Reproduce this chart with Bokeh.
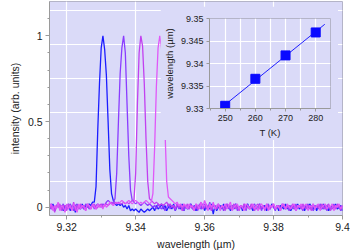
import numpy as np
from bokeh.plotting import figure
from bokeh.layouts import column
from bokeh.models import FixedTicker
from bokeh.embed import file_html
from bokeh.resources import INLINE

# ---------------- data ----------------
# common wavelength sampling (µm), 9.315 .. 9.400 step 0.0005
wavelength = np.round(9.315 + 0.0005 * np.arange(171), 4)

spec_250K = [
    .01, -.01, .02, -.02, .00, .02, -.01, .01, -.02, .01,
    -.01, .02, -.02, .00, .01, -.03, .01, .00, -.01, .02,
    -.01, .01, .00, .02, .01, .03, .03, .12, .45, .72,
    .93, 1.0, .92, .77, .5, .22, .08, .04, .02, .01,
    .02, .01, .02, .00, .01, -.01, .01, -.02, -.01, -.02,
    -.01, -.02, -.03, -.01, -.02, -.03, -.02, -.01, -.02, -.01,
    .00, -.02, .01, -.01, .00, .02, -.01, .01, -.02, .00,
    .01, -.01, .02, -.02, .01, .00, -.01, .02, -.02, .01,
    -.01, .00, .02, -.01, .01, -.02, .00, .01, -.01, .02,
    -.02, .01, .00, -.01, .02, -.04, .01, -.02, .00, .01,
    -.01, .02, -.01, .00, .01, -.02, .01, -.01, .02, .00,
    -.01, .01, -.02, .01, .00, .02, -.01, .01, -.02, .00,
    .01, -.01, .02, -.01, .00, .01, -.02, .01, -.01, .02,
    .00, -.01, .01, -.02, .01, .00, -.01, .02, -.01, .01,
    -.02, .00, .01, -.01, .02, -.01, .00, .01, -.02, .01,
    -.01, .02, .00, -.01, .01, -.02, .01, .00, -.01, .02,
    -.01, .01, -.02, .00, .01, -.01, .02, -.01, .00, .01, -.02,
]
spec_260K = [
    -.01, .02, .00, -.02, .01, .02, -.01, .00, .02, -.02,
    .01, -.01, .02, .00, -.02, .01, .02, -.01, .01, .00,
    -.01, .02, .01, -.01, .00, .02, -.01, .01, .02, .01,
    .00, .02, .01, .03, .04, .03, .02, .03, .05, .2,
    .5, .78, .93, 1.0, .9, .6, .3, .1, .04, .03,
    .02, .03, .02, .01, .02, .03, .02, .01, .02, .01,
    .00, .01, -.01, .02, .00, -.01, .01, -.02, .00, .02,
    -.01, .01, .00, -.02, .02, -.01, .01, .00, -.02, .01,
    .00, -.01, .02, -.01, .00, .01, -.02, .02, -.01, .01,
    .02, -.01, .00, .03, -.02, .01, .00, -.01, .02, -.01,
    .01, -.02, .00, .02, -.01, .01, -.01, .00, .02, -.02,
    .00, .01, -.01, .02, -.02, .01, .00, -.01, .01, .02,
    -.01, .00, .02, -.02, .01, -.01, .00, .02, -.01, .01,
    .00, -.02, .01, .01, -.01, .02, .00, -.01, .01, -.02,
    .01, .00, -.01, .02, -.01, .01, .00, -.02, .01, .00,
    .02, -.01, .01, -.02, .00, .01, -.01, .02, .00, -.01,
    .01, -.02, .01, .00, -.01, .02, -.01, .01, .00, -.02, .01,
]
spec_270K = [
    .02, -.01, .01, -.03, .01, .00, .02, -.02, .01, .01,
    -.02, .02, .00, -.01, .03, -.02, .01, -.01, .02, .00,
    .01, -.02, .02, .00, -.01, .01, .02, -.01, .00, .01,
    .02, .00, .01, .02, .01, .02, .03, .02, .03, .02,
    .03, .02, .02, .03, .02, .03, .02, .03, .04, .04,
    .2, .6, .9, 1.0, .94, .72, .4, .15, .05, .04,
    .03, .02, .03, .02, .01, .02, .01, .02, .03, .01,
    .02, .00, .01, -.01, .02, .00, .01, -.02, .01, .00,
    .02, -.01, .01, .00, -.02, .02, -.01, .01, .03, -.01,
    .00, .02, -.01, .01, -.02, .02, .00, -.01, .02, -.01,
    .01, .00, -.02, .02, .01, -.01, .00, .02, -.01, .01,
    -.02, .01, .00, .02, -.01, .01, -.01, .02, .00, -.02,
    .01, .02, -.01, .00, .01, -.02, .02, .00, -.01, .01,
    .02, -.01, .00, .01, -.02, .01, .02, -.01, .00, .01,
    -.01, .02, .00, -.02, .01, .01, -.01, .02, .00, -.01,
    .01, .00, -.02, .02, -.01, .01, .00, -.01, .02, .00,
    -.01, .01, .02, -.02, .00, .01, -.01, .02, .00, -.01, .01,
]
spec_280K = [
    .00, .02, -.02, .01, -.01, .03, -.02, .01, .00, -.03,
    .02, -.01, .01, -.02, .02, .00, -.03, .02, -.01, .01,
    .00, -.02, .02, .01, -.01, .02, .00, -.01, .02, .00,
    .01, -.01, .02, .00, .01, .03, .02, .01, .02, .03,
    .02, .03, .04, .03, .02, .03, .04, .03, .02, .03,
    .04, .03, .02, .03, .02, .03, .04, .03, .02, .03,
    .08, .35, .7, .93, 1.0, .93, .72, .45, .15, .06,
    .05, .04, .03, .02, .03, .01, .02, .00, .02, .01,
    -.01, .02, .00, .01, -.02, .02, .01, -.01, .03, .00,
    .04, .01, -.02, .02, .00, .03, -.01, .01, .02, -.02,
    .01, .00, .02, -.01, .01, .03, -.02, .00, .01, .02,
    -.01, .01, .00, -.02, .02, .01, -.01, .00, .02, -.01,
    .01, -.02, .01, .02, .00, -.01, .02, -.02, .01, .00,
    .02, -.01, .01, .00, -.02, .02, .01, -.01, .02, .00,
    -.01, .01, .02, -.02, .01, .00, .02, -.01, .01, .02,
    -.02, .01, .00, .02, -.01, .01, .02, -.02, .00, .01,
    .02, -.01, .01, .00, .02, -.02, .01, .00, .02, -.01, .01,
]
series = [spec_250K, spec_260K, spec_270K, spec_280K]
series_colors = ["#1c1cff", "#8a3cff", "#c240f0", "#e058f8"]

x_ticks = [9.32, 9.34, 9.36, 9.38, 9.4]
x_tick_labels = ["9.32", "9.34", "9.36", "9.38", "9.4"]
y_ticks = [0, 0.5, 1]
y_tick_labels = ["0", "0.5", "1"]

# inset: peak wavelength vs temperature
temperature = [250, 260, 270, 280]
peak_wavelength = [9.3306, 9.3366, 9.3418, 9.3469]
fit_T = [248.5, 283.0]
inset_x_ticks = [250, 260, 270, 280]
inset_y_ticks = [9.33, 9.335, 9.34, 9.345, 9.35]
inset_y_labels = ["9.33", "9.335", "9.34", "9.345", "9.35"]

# ---------------- style ----------------
BG = "#dadaf8"
FONT = "Liberation Sans"
TXT = "#222222"
AX = "#9a9a9a"

p = figure(width=350, height=252, output_backend="svg", toolbar_location=None,
           x_range=(9.315, 9.4), y_range=(-0.048, 1.2),
           min_border_left=39, min_border_right=8, min_border_top=1, min_border_bottom=36)
p.background_fill_color = BG
p.border_fill_color = "white"
p.outline_line_color = "#b4b4c8"

for ys, c in zip(series, series_colors):
    p.line(wavelength, ys, line_color=c, line_width=1.3)

p.xaxis.ticker = FixedTicker(ticks=x_ticks, minor_ticks=[9.33, 9.35, 9.37, 9.39])
p.xaxis.major_label_overrides = dict(zip(x_ticks, x_tick_labels))
p.yaxis.ticker = FixedTicker(ticks=y_ticks,
                             minor_ticks=[0.1, 0.2, 0.3, 0.4, 0.6, 0.7, 0.8, 0.9, 1.1])
p.yaxis.major_label_overrides = dict(zip(y_ticks, y_tick_labels))
p.xgrid.ticker = FixedTicker(ticks=[9.32, 9.34, 9.36, 9.38])
p.ygrid.ticker = FixedTicker(ticks=[0.15, 0.35, 0.55, 0.75, 0.95, 1.15])
p.grid.grid_line_color = "white"
p.grid.grid_line_width = 1.2

p.xaxis.axis_label = "wavelength (µm)"
p.yaxis.axis_label = "intensity (arb. units)"
for ax in (p.xaxis, p.yaxis):
    ax.axis_line_color = AX
    ax.major_tick_line_color = AX
    ax.minor_tick_line_color = AX
    ax.major_tick_out = 4
    ax.major_tick_in = 0
    ax.minor_tick_out = 2
    ax.minor_tick_in = 0
    ax.major_label_text_font = FONT
    ax.major_label_text_font_size = "10.5px"
    ax.major_label_text_color = TXT
    ax.axis_label_text_font = FONT
    ax.axis_label_text_font_size = "10.5px"
    ax.axis_label_text_font_style = "normal"
    ax.axis_label_text_color = TXT
    ax.major_label_standoff = 3
    ax.axis_label_standoff = 4

# ---------------- inset ----------------
q = figure(width=178, height=134, output_backend="svg", toolbar_location=None,
           x_range=(244.8, 284.9), y_range=(9.33, 9.35),
           min_border_left=45, min_border_right=1, min_border_top=12, min_border_bottom=24)
q.background_fill_color = BG
q.border_fill_color = BG
q.outline_line_color = "#b4b4c8"

coef = np.polyfit(temperature, peak_wavelength, 1)
q.line(fit_T, np.polyval(coef, fit_T), line_color="#2020ff", line_width=1)
q.scatter(temperature, peak_wavelength, marker="square", size=9,
          fill_color="#0a0aff", line_color="#0a0aff")

q.xaxis.ticker = FixedTicker(ticks=inset_x_ticks, minor_ticks=[245, 255, 265, 275, 285])
q.yaxis.ticker = FixedTicker(ticks=inset_y_ticks, minor_ticks=[])
q.yaxis.major_label_overrides = dict(zip(inset_y_ticks, inset_y_labels))
q.xgrid.ticker = FixedTicker(ticks=[250, 255, 260, 265, 270, 275, 280])
q.ygrid.ticker = FixedTicker(ticks=[9.335, 9.34, 9.345])
q.grid.grid_line_color = "white"
q.grid.grid_line_width = 1.2
q.xaxis.axis_label = "T (K)"
q.yaxis.axis_label = "wavelength (µm)"
for ax in (q.xaxis, q.yaxis):
    ax.axis_line_color = AX
    ax.major_tick_line_color = AX
    ax.minor_tick_line_color = AX
    ax.major_tick_out = 3
    ax.major_tick_in = 0
    ax.minor_tick_out = 2
    ax.minor_tick_in = 0
    ax.major_label_text_font = FONT
    ax.major_label_text_font_size = "9px"
    ax.major_label_text_color = TXT
    ax.axis_label_text_font = FONT
    ax.axis_label_text_font_size = "9.5px"
    ax.axis_label_text_font_style = "normal"
    ax.axis_label_text_color = TXT
    ax.major_label_standoff = 3
    ax.axis_label_standoff = 3

q.styles = {"position": "absolute", "left": "160px", "top": "6px"}
layout = column(p, q, width=350, height=252)
layout.styles = {"position": "relative"}

open("out.html", "w").write(file_html(layout, INLINE))
